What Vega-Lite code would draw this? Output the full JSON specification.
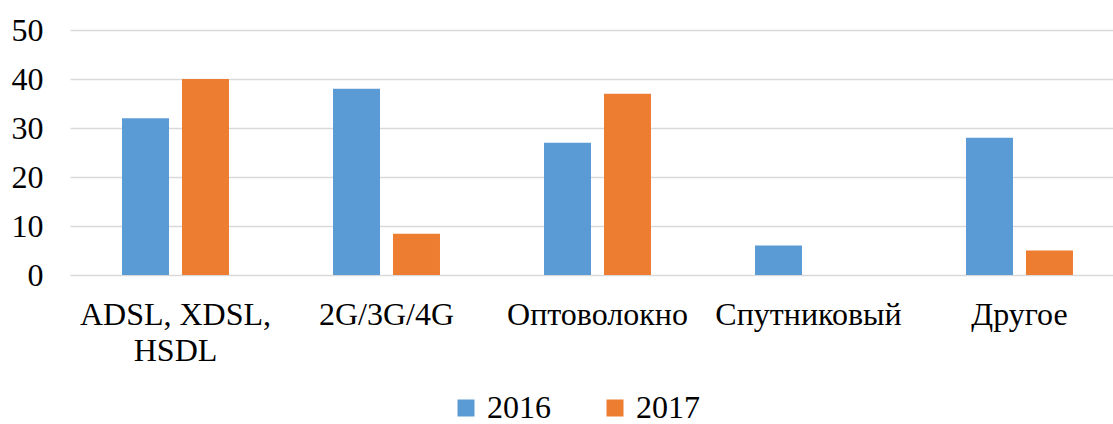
{
  "$schema": "https://vega.github.io/schema/vega-lite/v6.json",
  "width": 1055,
  "height": 245,
  "autosize": {"type": "none"},
  "padding": {"left": 70, "top": 30, "right": -12, "bottom": 149},
  "background": "white",
  "config": {
    "view": {"stroke": null},
    "font": "'Times New Roman', 'Liberation Serif', serif"
  },
  "data": {
    "values": [
      {"cat": "ADSL, XDSL,|HSDL", "year": "2016", "value": 32},
      {"cat": "ADSL, XDSL,|HSDL", "year": "2017", "value": 40},
      {"cat": "2G/3G/4G", "year": "2016", "value": 38},
      {"cat": "2G/3G/4G", "year": "2017", "value": 8.4},
      {"cat": "Оптоволокно", "year": "2016", "value": 27},
      {"cat": "Оптоволокно", "year": "2017", "value": 37},
      {"cat": "Спутниковый", "year": "2016", "value": 6},
      {"cat": "Спутниковый", "year": "2017", "value": 0},
      {"cat": "Другое", "year": "2016", "value": 28},
      {"cat": "Другое", "year": "2017", "value": 5}
    ]
  },
  "mark": {"type": "bar"},
  "encoding": {
    "x": {
      "field": "cat",
      "type": "nominal",
      "sort": null,
      "scale": {"paddingInner": 0.493, "paddingOuter": 0.2465},
      "axis": {
        "title": null,
        "domain": false,
        "ticks": false,
        "labelAngle": 0,
        "labelFont": "'Times New Roman', 'Liberation Serif', serif",
        "labelFontSize": 32,
        "labelColor": "#000000",
        "labelPadding": 24,
        "labelLineHeight": 36,
        "labelExpr": "split(datum.label, '|')",
        "labelLimit": 300
      }
    },
    "xOffset": {
      "field": "year",
      "type": "nominal",
      "scale": {"paddingInner": 0.2167}
    },
    "y": {
      "field": "value",
      "type": "quantitative",
      "scale": {"domain": [0, 50], "nice": false},
      "axis": {
        "title": null,
        "values": [0, 10, 20, 30, 40, 50],
        "domain": false,
        "ticks": false,
        "gridColor": "#D9D9D9",
        "gridWidth": 1.5,
        "labelFont": "'Times New Roman', 'Liberation Serif', serif",
        "labelFontSize": 32,
        "labelColor": "#000000",
        "labelPadding": 27
      }
    },
    "color": {
      "field": "year",
      "type": "nominal",
      "scale": {"domain": ["2016", "2017"], "range": ["#5B9BD5", "#ED7D31"]},
      "legend": {
        "title": null,
        "orient": "none",
        "direction": "horizontal",
        "legendX": 380,
        "legendY": 362,
        "symbolType": "square",
        "symbolSize": 289,
        "symbolStrokeWidth": 0,
        "labelFont": "'Times New Roman', 'Liberation Serif', serif",
        "labelFontSize": 32,
        "labelColor": "#000000",
        "labelOffset": 5,
        "columnPadding": 48
      }
    }
  }
}
